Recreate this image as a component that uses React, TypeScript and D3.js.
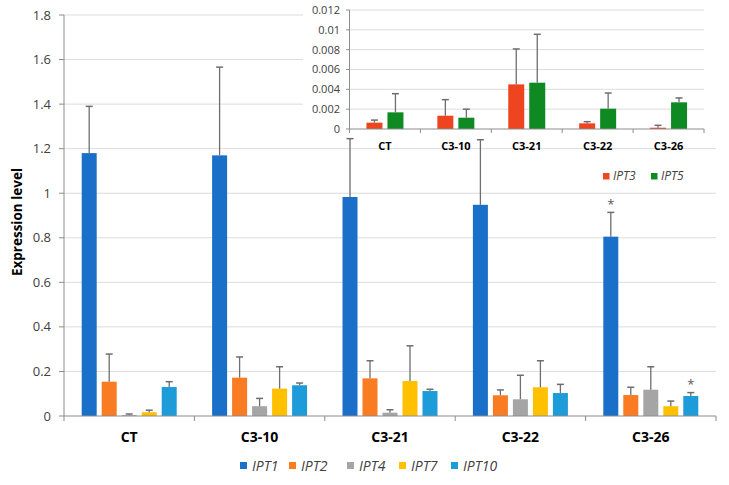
import React from "react";
import * as d3 from "d3";

const categories = ["CT", "C3-10", "C3-21", "C3-22", "C3-26"];
const mainSeries = ["IPT1", "IPT2", "IPT4", "IPT7", "IPT10"];
const mainColors = ["#1A70C8", "#F97B22", "#A5A5A5", "#FFC000", "#1E9BD9"];
const ipt1 = [1.18, 1.17, 0.983, 0.948, 0.805];
const ipt1Err = [0.21, 0.396, 0.262, 0.292, 0.109];
const ipt2 = [0.154, 0.172, 0.169, 0.093, 0.094];
const ipt2Err = [0.124, 0.093, 0.079, 0.024, 0.035];
const ipt4 = [0.004, 0.044, 0.015, 0.075, 0.118];
const ipt4Err = [0.005, 0.035, 0.013, 0.108, 0.103];
const ipt7 = [0.017, 0.123, 0.157, 0.129, 0.044];
const ipt7Err = [0.009, 0.098, 0.158, 0.119, 0.023];
const ipt10 = [0.13, 0.138, 0.112, 0.103, 0.09];
const ipt10Err = [0.024, 0.01, 0.008, 0.039, 0.015];
const mainTicks = [0, 0.2, 0.4, 0.6, 0.8, 1, 1.2, 1.4, 1.6, 1.8];
const mainTickLabels = ["0", "0.2", "0.4", "0.6", "0.8", "1", "1.2", "1.4", "1.6", "1.8"];
// significance marks: [category index, series index]
const starMarks = [[4, 0], [4, 4]];

const insetSeries = ["IPT3", "IPT5"];
const insetColors = ["#EE4420", "#0F8A22"];
const ipt3 = [0.00064, 0.00134, 0.0045, 0.00057, 0.00013];
const ipt3Err = [0.00026, 0.00162, 0.00357, 0.00017, 0.00024];
const ipt5 = [0.00168, 0.00114, 0.00467, 0.00205, 0.00269];
const ipt5Err = [0.00188, 0.00086, 0.00488, 0.00158, 0.00044];
const insetTicks = [0, 0.002, 0.004, 0.006, 0.008, 0.01, 0.012];
const insetTickLabels = ["0", "0.002", "0.004", "0.006", "0.008", "0.01", "0.012"];

const FONT = "'Open Sans', 'DejaVu Sans', sans-serif";

export default function App() {
  const W = 729, H = 485;
  const mainVals = [ipt1, ipt2, ipt4, ipt7, ipt10];
  const mainErrs = [ipt1Err, ipt2Err, ipt4Err, ipt7Err, ipt10Err];
  const insetVals = [ipt3, ipt5];
  const insetErrs = [ipt3Err, ipt5Err];

  // main scales
  const x = d3.scaleBand<string>().domain(categories).range([64, 716]).padding(0);
  const y = d3.scaleLinear().domain([0, 1.8]).range([416, 15]);
  const bw = x.bandwidth();
  const groupW = 95;
  const xs = d3.scaleBand<string>().domain(mainSeries)
    .range([(bw - groupW) / 2, (bw + groupW) / 2]).paddingInner(0.25).paddingOuter(0);

  // inset scales
  const ix = d3.scaleBand<string>().domain(categories).range([349.5, 704]).padding(0);
  const iy = d3.scaleLinear().domain([0, 0.012]).range([129, 10]);
  const ibw = ix.bandwidth();
  const igW = 37;
  const ixs = d3.scaleBand<string>().domain(insetSeries)
    .range([(ibw - igW) / 2, (ibw + igW) / 2]).paddingInner(5 / 21).paddingOuter(0);

  const grid = "#DCDCDC";
  const axisC = "#8C8C8C";
  const errC = "#6E6E6E";
  const txt = "#404040";

  const catBounds = [...categories.map((c) => x(c) as number), 716];
  const icatBounds = [...categories.map((c) => ix(c) as number), 704];

  return (
    <svg width={W} height={H} style={{ position: "absolute", left: 0, top: 0, background: "#fff" }}
      fontFamily={FONT}>
      <rect x={0} y={0} width={W} height={H} fill="#fff" />
      {/* main gridlines */}
      {mainTicks.slice(1).map((t) => (
        <line key={"g" + t} x1={64} x2={716} y1={y(t)} y2={y(t)} stroke={grid} strokeWidth={1} />
      ))}
      {/* main y tick labels */}
      {mainTicks.map((t, i) => (
        <g key={"yt" + t}>
          <line x1={59} x2={64} y1={y(t)} y2={y(t)} stroke={axisC} />
          <text x={51} y={y(t)} dy="0.35em" textAnchor="end" fontSize={13} fill={txt}>
            {mainTickLabels[i]}
          </text>
        </g>
      ))}
      {/* main bars */}
      {categories.map((c, ci) => (
        <g key={"c" + c} transform={`translate(${x(c)},0)`}>
          {mainSeries.map((s, si) => {
            const v = mainVals[si][ci];
            const e = mainErrs[si][ci];
            const bx = xs(s) as number;
            const cx = bx + xs.bandwidth() / 2;
            return (
              <g key={s}>
                <rect x={bx} width={xs.bandwidth()} y={y(v)} height={y(0) - y(v)} fill={mainColors[si]} />
                <line x1={cx} x2={cx} y1={y(v)} y2={y(v + e)} stroke={errC} strokeWidth={1.3} />
                <line x1={cx - 3.5} x2={cx + 3.5} y1={y(v + e)} y2={y(v + e)} stroke={errC} strokeWidth={1.5} />
              </g>
            );
          })}
        </g>
      ))}
      {starMarks.map(([ci, si]) => {
        const c = categories[ci];
        const s = mainSeries[si];
        const cx = (x(c) as number) + (xs(s) as number) + xs.bandwidth() / 2;
        const top = y(mainVals[si][ci] + mainErrs[si][ci]);
        return (
          <text key={"st" + ci + si} x={cx} y={top - 3.6} textAnchor="middle" fontSize={13} fill="#595959">*</text>
        );
      })}
      {/* main axes */}
      <line x1={64} x2={64} y1={15} y2={416} stroke={axisC} strokeWidth={1} />
      <line x1={64} x2={716} y1={416} y2={416} stroke={axisC} strokeWidth={1} />
      {catBounds.map((b, i) => (
        <line key={"xb" + i} x1={b} x2={b} y1={416} y2={421} stroke={axisC} />
      ))}
      {categories.map((c) => (
        <text key={"xl" + c} x={(x(c) as number) + bw / 2} y={442} textAnchor="middle" fontSize={14}
          fontWeight="bold" fill="#000">{c}</text>
      ))}
      <text transform={`translate(22,222) rotate(-90)`} textAnchor="middle" fontSize={13.5} fontWeight="bold" fill="#000">
        Expression level
      </text>
      {/* main legend */}
      {(() => {
        const starts = [240, 289, 347, 399, 451];
        return mainSeries.map((s, i) => (
          <g key={"lg" + s}>
            <rect x={starts[i]} y={462} width={7} height={7} fill={mainColors[i]} />
            <text x={starts[i] + 12} y={466} dy="0.35em" fontSize={14} fontStyle="italic" fill={txt}>{s}</text>
          </g>
        ));
      })()}

      {/* inset */}
      <rect x={303} y={0} width={420} height={137} fill="#fff" />
      {insetTicks.slice(1).map((t) => (
        <line key={"ig" + t} x1={349.5} x2={704} y1={iy(t)} y2={iy(t)} stroke={grid} strokeWidth={1} />
      ))}
      {insetTicks.map((t, i) => (
        <g key={"it" + t}>
          <line x1={346} x2={349.5} y1={iy(t)} y2={iy(t)} stroke={axisC} />
          <text x={340} y={iy(t)} dy="0.35em" textAnchor="end" fontSize={11} fill={txt}>{insetTickLabels[i]}</text>
        </g>
      ))}
      {categories.map((c, ci) => (
        <g key={"ic" + c} transform={`translate(${ix(c)},0)`}>
          {insetSeries.map((s, si) => {
            const v = insetVals[si][ci];
            const e = insetErrs[si][ci];
            const bx = ixs(s) as number;
            const cx = bx + ixs.bandwidth() / 2;
            return (
              <g key={s}>
                <rect x={bx} width={ixs.bandwidth()} y={iy(v)} height={iy(0) - iy(v)} fill={insetColors[si]} />
                <line x1={cx} x2={cx} y1={iy(v)} y2={iy(v + e)} stroke={errC} strokeWidth={1.3} />
                <line x1={cx - 3.5} x2={cx + 3.5} y1={iy(v + e)} y2={iy(v + e)} stroke={errC} strokeWidth={1.5} />
              </g>
            );
          })}
        </g>
      ))}
      <line x1={349.5} x2={349.5} y1={10} y2={129} stroke={axisC} />
      <line x1={349.5} x2={704} y1={129} y2={129} stroke={axisC} />
      {icatBounds.map((b, i) => (
        <line key={"ixb" + i} x1={b} x2={b} y1={129} y2={133} stroke={axisC} />
      ))}
      {categories.map((c) => (
        <text key={"ixl" + c} x={(ix(c) as number) + ibw / 2} y={150} textAnchor="middle" fontSize={11}
          fontWeight="bold" fill="#000">{c}</text>
      ))}
      {(() => {
        const starts = [603, 651];
        return insetSeries.map((s, i) => (
          <g key={"ilg" + s}>
            <rect x={starts[i]} y={173} width={6.5} height={6.5} fill={insetColors[i]} />
            <text x={starts[i] + 10} y={176} dy="0.35em" fontSize={12} fontStyle="italic" fill={txt}>{s}</text>
          </g>
        ));
      })()}
    </svg>
  );
}
